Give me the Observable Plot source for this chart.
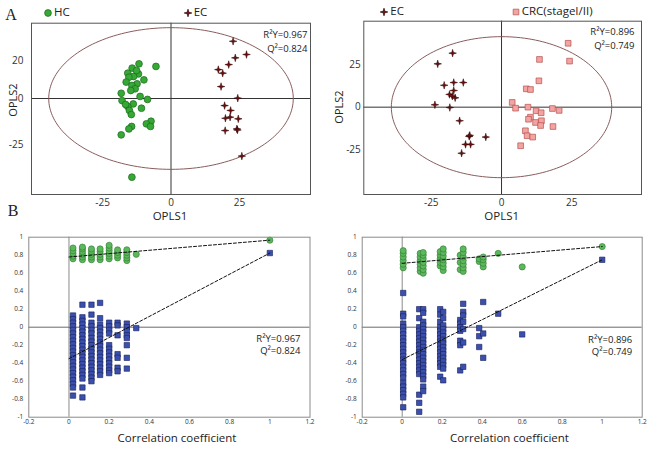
<!DOCTYPE html>
<html><head><meta charset="utf-8">
<script src="https://cdn.jsdelivr.net/npm/d3@7"></script>
<script src="https://cdn.jsdelivr.net/npm/@observablehq/plot@0.6"></script>
<style>
body{margin:0;background:#fff;}
#wrap{position:relative;width:650px;height:449px;overflow:hidden;font-family:'Open Sans',sans-serif;color:#222;background:#fff;}
.panel{position:absolute;}
.t{position:absolute;white-space:nowrap;line-height:1;}
.c{transform:translate(-50%,-50%);}
</style></head><body><div id="wrap"></div>
<script>
// ---------- Panel A (left): HC vs EC OPLS-DA scores ----------
const hcX = [-11.7,-5.5,-14.2,-15.8,-11.9,-13.7,-15.4,-16.4,-12.4,-14.3,-9.9,-13.1,-14.7,-18.2,-11.3,-17.9,-8.6,-13.8,-15.8,-10.8,-15.2,-14.5,-7.3,-9.0,-7.5,-14.4,-15.4,-18.2,-14.3,-12.6,-16.6];
const hcY = [18.6,17.2,16.3,13.6,13.2,11.8,11.4,8.8,7.9,7.0,10.0,5.2,4.3,2.8,1.1,-1.1,-0.5,-2.9,-4.3,-5.2,-6.4,-8.6,-12.2,-13.6,-15.0,-15.0,-16.3,-19.5,-42.2,15.0,-3.2];
const ecAX = [22.7,27.6,23.5,21.1,17.3,18.9,18.3,24.4,19.6,21.8,19.9,21.6,24.6,19.8,24.1,25.9,24.3];
const ecAY = [30.7,23.6,21.8,18.2,15.5,13.6,6.4,0.2,-3.8,-6.4,-10.6,-10.0,-10.9,-17.2,-16.3,-30.9,-16.9];
const a1Ellipse = [44.7, 38];           // radii (OPLS1, OPLS2)
const a1TicksX = [-25, 0, 25];
const a1TicksY = [20, 0, -25];
const a1Stats = ["R²Y=0.967", "Q²=0.824"];

// ---------- Panel A (right): EC vs CRC(stage I/II) ----------
const ecBX = [-17.4,-22.7,-17.0,-13.6,-20.4,-17.0,-18.5,-17.5,-16.5,-23.7,-18.4,-14.9,-11.5,-5.6,-12.8,-11.0,-14.2,-11.3];
const ecBY = [31.8,25.5,14.5,14.5,12.9,9.8,7.5,6.5,5.5,1.4,-0.2,-8.0,-17.2,-17.6,-21.9,-21.9,-27.1,-16.6];
const crcX = [23.7,24.2,13.5,13.3,8.8,10.3,3.8,5.0,9.4,12.3,14.1,18.1,20.5,10.3,9.6,12.1,14.2,13.9,18.3,8.5,9.1,11.1,6.8];
const crcY = [37.6,27.1,28.1,15.5,10.8,10.4,2.8,-0.6,0,-2.1,-3.3,-0.8,-1.9,-5.9,-7.1,-9.0,-8.0,-10.8,-11.4,-13.9,-16.8,-17.6,-22.7];
const a2Ellipse = [39.2, 41.5];
const a2TicksX = [-25, 0, 25];
const a2TicksY = [25, 0, -25];
const a2Stats = ["R²Y=0.896", "Q²=0.749"];

// ---------- Panel B (left): permutation test, HC vs EC ----------
const b1R2Cols = [0.02, 0.067, 0.112, 0.155, 0.2, 0.242, 0.288, 0.335];
const b1R2Vals = [
  [0.76,0.79,0.82,0.85,0.88],
  [0.75,0.78,0.81,0.84,0.87,0.89],
  [0.75,0.78,0.81,0.84,0.87],
  [0.75,0.78,0.81,0.84,0.87],
  [0.76,0.79,0.82,0.85,0.88,0.91],
  [0.77,0.80,0.83,0.86],
  [0.74,0.77,0.80,0.83,0.86],
  [0.81]
];
const b1Q2Cols = [0.02, 0.067, 0.112, 0.155, 0.2, 0.242, 0.288, 0.335];
const b1Q2Vals = [
  [0.13,0.09,0.05,0.01,-0.03,-0.07,-0.11,-0.15,-0.19,-0.23,-0.27,-0.31,-0.35,-0.39,-0.43,-0.47,-0.51,-0.55,-0.59,-0.63,-0.67,-0.76],
  [0.25,0.11,0.07,0.03,-0.01,-0.05,-0.09,-0.13,-0.17,-0.21,-0.25,-0.29,-0.33,-0.37,-0.41,-0.45,-0.49,-0.53,-0.57,-0.67,-0.78],
  [0.25,0.14,0.05,0.01,-0.03,-0.07,-0.12,-0.16,-0.20,-0.24,-0.28,-0.32,-0.36,-0.40,-0.44,-0.48,-0.52,-0.56,-0.60],
  [0.27,0.10,0.03,-0.01,-0.05,-0.09,-0.13,-0.17,-0.21,-0.25,-0.29,-0.33,-0.37,-0.41,-0.45,-0.49,-0.53],
  [0.05,0.01,-0.03,-0.07,-0.20,-0.24,-0.28,-0.32,-0.36,-0.40,-0.44,-0.48,-0.51],
  [0.05,0.02,-0.09,-0.30,-0.34,-0.45,-0.49],
  [0.04,0.00,-0.04,-0.09,-0.12,-0.20,-0.34,-0.46],
  [-0.01]
];
const b1Orig = [0.967, 0.824];       // R2, Q2 of the original model at correlation 1
const b1Intercepts = [0.78, -0.35];  // R2, Q2 regression intercepts
const b1Stats = ["R²Y=0.967", "Q²=0.824"];

// ---------- Panel B (right): permutation test, EC vs CRC ----------
const b2R2Cols = [0.005, 0.09, 0.105, 0.19, 0.205, 0.29, 0.305, 0.385, 0.405, 0.48, 0.6];
const b2R2Vals = [
  [0.66,0.70,0.74,0.78,0.82,0.85],
  [0.62,0.66,0.70,0.74,0.78,0.82],
  [0.60,0.64,0.68,0.72,0.76,0.80,0.83],
  [0.68,0.72,0.76,0.80,0.84],
  [0.63,0.67,0.71,0.75,0.79,0.83,0.87],
  [0.64,0.72,0.80],
  [0.62,0.66,0.70,0.74,0.78,0.83,0.87],
  [0.73,0.76],
  [0.67,0.71,0.75,0.78],
  [0.82],
  [0.67]
];
const b2Q2Cols = [0.005, 0.085, 0.105, 0.19, 0.205, 0.29, 0.305, 0.385, 0.405, 0.48, 0.6];
const b2Q2Vals = [
  [0.38,0.15,0.12,0.04,0.00,-0.04,-0.08,-0.12,-0.16,-0.20,-0.24,-0.28,-0.32,-0.36,-0.40,-0.44,-0.48,-0.52,-0.56,-0.62,-0.66,-0.70,-0.74,-0.78,-0.89],
  [0.20,0.10,0.00,-0.04,-0.08,-0.12,-0.16,-0.20,-0.24,-0.28,-0.32,-0.36,-0.40,-0.44,-0.48,-0.52,-0.75,-0.84,-0.94],
  [0.20,0.16,0.06,0.02,-0.02,-0.06,-0.10,-0.14,-0.18,-0.22,-0.26,-0.30,-0.34,-0.38,-0.42,-0.46,-0.50,-0.54,-0.58,-0.66,-0.71],
  [0.20,0.14,0.06,0.00,-0.04,-0.08,-0.12,-0.16,-0.20,-0.24,-0.28,-0.32,-0.36,-0.40,-0.44,-0.55],
  [0.17,0.10,0.02,-0.02,-0.06,-0.10,-0.14,-0.18,-0.22,-0.26,-0.30,-0.34,-0.38,-0.42,-0.46,-0.59],
  [0.08,0.04,0.00,-0.04,-0.15,-0.20,-0.48],
  [0.26,0.17,0.13,0.06,-0.02,-0.17,-0.44],
  [-0.01,-0.10,-0.22],
  [0.28,-0.07,-0.34],
  [0.15],
  [-0.08]
];
const b2Orig = [0.896, 0.749];
const b2Intercepts = [0.71, -0.36];
const b2Stats = ["R²Y=0.896", "Q²=0.749"];

const bTicksX = [-0.2, 0, 0.2, 0.4, 0.6, 0.8, 1, 1.2];
const bTicksY = [-1, -0.8, -0.6, -0.4, -0.2, 0, 0.2, 0.4, 0.6, 0.8, 1];

// ---------- helpers ----------
const zip = (xs, ys) => xs.map((x, i) => ({x, y: ys[i]}));
const cols = (cs, vs) => cs.flatMap((x, i) => vs[i].map(y => ({x, y})));
const ellipsePts = r => d3.range(0, 362, 2).map(a => ({x: r[0] * Math.cos(a * Math.PI / 180), y: r[1] * Math.sin(a * Math.PI / 180)}));
const fmt = d => String(d);
const star4 = {draw(ctx, size) {
  const R = Math.sqrt(size / Math.PI) * 1.15, r0 = R * 0.3;
  for (let i = 0; i < 8; i++) {
    const a = i * Math.PI / 4 - Math.PI / 2, rr = i % 2 ? r0 : R;
    const px = rr * Math.cos(a), py = rr * Math.sin(a);
    if (i) ctx.lineTo(px, py); else ctx.moveTo(px, py);
  }
  ctx.closePath();
}};
const GREEN = "#36a836", GREEN_S = "#1d6a1d";
const STAR = "#6e0e0e", STAR_S = "#2a0000";
const PINK = "#f3a3a1", PINK_S = "#b4514e";
const BGREEN = "#5cb85c", BGREEN_S = "#2d7a2d";
const BLUE = "#3b4fae", BLUE_S = "#18225a";

const wrap = document.getElementById("wrap");
function place(el, left, top) {
  const d = document.createElement("div");
  d.className = "panel"; d.style.left = left + "px"; d.style.top = top + "px";
  d.appendChild(el); wrap.appendChild(d);
}
function label(txt, x, y, opts = {}) {
  const d = document.createElement("div");
  d.className = "t c"; d.textContent = txt;
  d.style.left = x + "px"; d.style.top = y + "px";
  d.style.fontSize = (opts.size || 11.5) + "px";
  if (opts.family) d.style.fontFamily = opts.family;
  if (opts.rotate) d.style.transform = "translate(-50%,-50%) rotate(-90deg)";
  wrap.appendChild(d);
}
const styleA = {background: "transparent", fontFamily: "'Open Sans', sans-serif", fontSize: "10px", color: "#333", overflow: "visible"};
const styleB = {background: "transparent", fontFamily: "'Open Sans', sans-serif", fontSize: "6.5px", color: "#333", overflow: "visible"};

// ---------- A left ----------
place(Plot.plot({
  width: 325, height: 225, marginLeft: 31, marginRight: 15, marginTop: 22.7, marginBottom: 31,
  x: {domain: [-51, 51], ticks: a1TicksX, tickSize: 0, tickPadding: 4, tickFormat: fmt, label: null},
  y: {domain: [-51.5, 40.4], ticks: a1TicksY, tickSize: 0, tickPadding: 8, tickFormat: fmt, label: null},
  style: styleA,
  marks: [
    Plot.ruleX([0], {stroke: "#333", strokeWidth: 1}),
    Plot.ruleY([0], {stroke: "#333", strokeWidth: 1}),
    Plot.line(ellipsePts(a1Ellipse), {x: "x", y: "y", stroke: "#8a5c5c", strokeWidth: 1}),
    Plot.dot(zip(hcX, hcY), {x: "x", y: "y", r: 3.4, fill: GREEN, stroke: GREEN_S, strokeWidth: 0.7}),
    Plot.dot(zip(ecAX, ecAY), {x: "x", y: "y", r: 3.3, symbol: star4, fill: STAR, stroke: STAR_S, strokeWidth: 0.5}),
    Plot.frame({stroke: "#555"}),
    Plot.text([a1Stats[0]], {frameAnchor: "top-right", dx: -3, dy: 8.5, textAnchor: "end", fontSize: 9.5, fill: "#222"}),
    Plot.text([a1Stats[1]], {frameAnchor: "top-right", dx: -3, dy: 22, textAnchor: "end", fontSize: 9.5, fill: "#222"})
  ]
}), 0, 0);

// ---------- A right ----------
place(Plot.plot({
  width: 325, height: 225, marginLeft: 38.3, marginRight: 9, marginTop: 20.7, marginBottom: 31,
  x: {domain: [-49, 49.8], ticks: a2TicksX, tickSize: 0, tickPadding: 4, tickFormat: fmt, label: null},
  y: {domain: [-51.4, 50.6], ticks: a2TicksY, tickSize: 0, tickPadding: 3, tickFormat: fmt, label: null},
  style: styleA,
  marks: [
    Plot.ruleX([0], {stroke: "#333", strokeWidth: 1}),
    Plot.ruleY([0], {stroke: "#333", strokeWidth: 1}),
    Plot.line(ellipsePts(a2Ellipse), {x: "x", y: "y", stroke: "#8a5c5c", strokeWidth: 1}),
    Plot.dot(zip(ecBX, ecBY), {x: "x", y: "y", r: 3.3, symbol: star4, fill: STAR, stroke: STAR_S, strokeWidth: 0.5}),
    Plot.dot(zip(crcX, crcY), {x: "x", y: "y", r: 3.2, symbol: "square", fill: PINK, stroke: PINK_S, strokeWidth: 0.7}),
    Plot.frame({stroke: "#555"}),
    Plot.text([a2Stats[0]], {frameAnchor: "top-right", dx: -7, dy: 7.5, textAnchor: "end", fontSize: 9.5, fill: "#222"}),
    Plot.text([a2Stats[1]], {frameAnchor: "top-right", dx: -7, dy: 21.5, textAnchor: "end", fontSize: 9.5, fill: "#222"})
  ]
}), 325, 0);

// ---------- B panels ----------
function permPlot(r2, q2, orig, icpt, stats, m, dyStats, dxStats) {
  return Plot.plot({
    width: 325, height: 224, marginLeft: m[0], marginRight: m[1], marginTop: 11.7, marginBottom: 32.3,
    x: {domain: [-0.2, 1.2], ticks: bTicksX, tickSize: 0, tickPadding: 2.5, tickFormat: fmt, label: null},
    y: {domain: [-1, 1], ticks: bTicksY, tickSize: 0, tickPadding: 5.5, tickFormat: fmt, label: null},
    style: styleB,
    marks: [
      Plot.ruleX([0], {stroke: "#8a8a8a", strokeWidth: 1}),
      Plot.ruleY([0], {stroke: "#6a6a6a", strokeWidth: 1}),
      Plot.dot(r2, {x: "x", y: "y", r: 3.1, fill: BGREEN, stroke: BGREEN_S, strokeWidth: 0.6}),
      Plot.dot([{x: 1, y: orig[0]}], {x: "x", y: "y", r: 3.1, fill: BGREEN, stroke: BGREEN_S, strokeWidth: 0.6}),
      Plot.dot(q2, {x: "x", y: "y", r: 3.05, symbol: "square", fill: BLUE, stroke: BLUE_S, strokeWidth: 0.6}),
      Plot.dot([{x: 1, y: orig[1]}], {x: "x", y: "y", r: 3.05, symbol: "square", fill: BLUE, stroke: BLUE_S, strokeWidth: 0.6}),
      Plot.line([{x: 0, y: icpt[0]}, {x: 1, y: orig[0]}], {x: "x", y: "y", stroke: "#111", strokeWidth: 1, strokeDasharray: "3,2"}),
      Plot.line([{x: 0, y: icpt[1]}, {x: 1, y: orig[1]}], {x: "x", y: "y", stroke: "#111", strokeWidth: 1, strokeDasharray: "3,2"}),
      Plot.frame({stroke: "#8a8a8a"}),
      Plot.text([stats[0]], {frameAnchor: "top-right", dx: dxStats, dy: dyStats[0], textAnchor: "end", fontSize: 9.5, fill: "#222"}),
      Plot.text([stats[1]], {frameAnchor: "top-right", dx: dxStats, dy: dyStats[1], textAnchor: "end", fontSize: 9.5, fill: "#222"})
    ]
  });
}
place(permPlot(cols(b1R2Cols, b1R2Vals), cols(b1Q2Cols, b1Q2Vals), b1Orig, b1Intercepts, b1Stats, [28.3, 15.5], [97.6, 110], -9.5), 0, 225);
place(permPlot(cols(b2R2Cols, b2R2Vals), cols(b2Q2Cols, b2Q2Vals), b2Orig, b2Intercepts, b2Stats, [36.7, 8.3], [99.3, 111.3], -10), 325, 225);

// ---------- titles, axis labels ----------
label("A", 11, 15, {size: 16, family: "'Liberation Serif', serif"});
label("B", 13, 211, {size: 16, family: "'Liberation Serif', serif"});
label("OPLS2", 11.7, 100, {size: 11, rotate: true});
label("OPLS2", 338, 107, {size: 11, rotate: true});
label("OPLS1", 170, 216, {size: 11.5});
label("OPLS1", 501.7, 216, {size: 11.5});
label("Correlation coefficient", 177, 438, {size: 11.5});
label("Correlation coefficient", 509.5, 438, {size: 11.5});

// ---------- legends ----------
function legendItem(x, y, kind, txt) {
  const ns = "http://www.w3.org/2000/svg";
  const svg = document.createElementNS(ns, "svg");
  svg.setAttribute("width", 12); svg.setAttribute("height", 12);
  svg.style.position = "absolute"; svg.style.left = (x - 6) + "px"; svg.style.top = (y - 6) + "px";
  const p = document.createElementNS(ns, "path");
  let d;
  if (kind === "circle") d = d3.symbol(d3.symbolCircle, Math.PI * 3.4 * 3.4)();
  else if (kind === "square") d = d3.symbol(d3.symbolSquare, Math.PI * 3.2 * 3.2)();
  else d = d3.symbol(star4, Math.PI * 3.3 * 3.3)();
  p.setAttribute("d", d); p.setAttribute("transform", "translate(6,6)");
  const fill = kind === "circle" ? GREEN : kind === "square" ? PINK : STAR;
  const stroke = kind === "circle" ? GREEN_S : kind === "square" ? PINK_S : STAR_S;
  p.setAttribute("fill", fill); p.setAttribute("stroke", stroke); p.setAttribute("stroke-width", 0.7);
  svg.appendChild(p); wrap.appendChild(svg);
  const t = document.createElement("div");
  t.className = "t"; t.textContent = txt; t.style.fontSize = "11.5px";
  t.style.left = (x + 6) + "px"; t.style.top = (y - 7) + "px";
  wrap.appendChild(t);
}
legendItem(48, 13, "circle", "HC");
legendItem(187.7, 12.5, "star", "EC");
legendItem(384.3, 12, "star", "EC");
legendItem(515.7, 12, "square", "CRC(stageI/II)");
</script></body></html>
